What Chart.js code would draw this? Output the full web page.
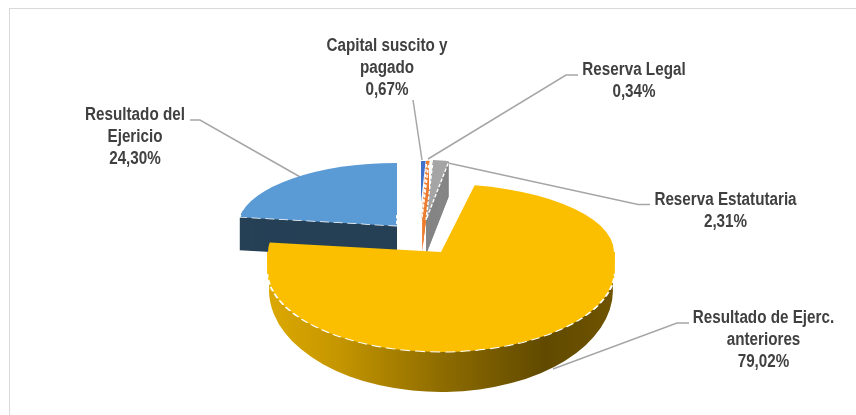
<!DOCTYPE html>
<html>
<head>
<meta charset="utf-8">
<title>Patrimonio</title>
<script src="https://cdn.jsdelivr.net/npm/chart.js@4"></script>
<style>
  html, body { margin: 0; padding: 0; background: #fff; }
  canvas { display: block; }
</style>
</head>
<body>
<canvas id="myChart" width="856" height="415"></canvas>
<script>
var categories = ['Capital suscito y pagado', 'Reserva Legal', 'Reserva Estatutaria', 'Resultado de Ejerc. anteriores', 'Resultado del Ejericio'];
var values = [0.67, 0.34, 2.31, 79.02, 24.30];
var sliceColors = ['#3F73CB', '#ED7D31', '#A5A5A5', '#FCBF00', '#5B9BD5'];
var wallColors = ['#3F73CB', '#ED7D31', '#858585', null, '#264056'];
var outlineWidths = [0, 2, 0, 0, 0];

// where each exploded slice lands and how far it is squashed
var sliceBands = [
    [{ x: 421, y: 202, rx: 118, ry: 41 }],
    [{ x: 422, y: 218, rx: 118, ry: 57 }],
    [{ x: 426, y: 220, rx: 118, ry: 60 }],
    [
        { x: 441, y: 252, rx: 173, ry: 68, top: 0, bottom: 252 },
        { x: 441, y: 252, rx: 174, ry: 400, top: 252, bottom: 270 },
        { x: 441, y: 270, rx: 174, ry: 82, top: 270, bottom: 415 }
    ],
    [{ x: 397, y: 226, rx: 159, ry: 63 }]
];
var sliceDepths = [0, 35, 35, 0, 33];
// the white rim only shows below these heights
var rimTops = [0, 163, 163, 274, 215];
// the big slice's front wall narrows towards the sides
var curvedWall = [
    { x: 441, y: 270, rx: 172, ry: 400, top: 270, bottom: 290 },
    { x: 441, y: 290, rx: 172, ry: 102, top: 290, bottom: 415 }
];
var drawOrder = [4, 0, 1, 2, 3];

// label text lines and leader lines, same order as categories
var labelLines = [
    ['Capital suscito y', 'pagado'],
    ['Reserva Legal'],
    ['Reserva Estatutaria'],
    ['Resultado de Ejerc.', 'anteriores'],
    ['Resultado del', 'Ejericio']
];
var labelSpots = [[387, 51], [634, 75], [725.5, 205], [763.5, 323.3], [135, 120]];
var leaderLines = [
    [[413, 100], [422, 160]],
    [[578, 75], [566, 75], [428, 159]],
    [[650, 204.5], [638, 204.5], [448, 163]],
    [[689, 323], [677, 323], [553, 369]],
    [[190, 120], [200, 120], [302, 178]]
];

function paintArc(ctx, el, overrides) {
    var saved = el.options;
    var opts = Object.create(saved);
    Object.keys(overrides).forEach(function (k) { opts[k] = overrides[k]; });
    el.options = opts;
    el.draw(ctx);
    el.options = saved;
}

function placeBand(ctx, el, band, dy) {
    ctx.translate(band.x, band.y + dy);
    ctx.scale(band.rx / el.outerRadius, band.ry / el.outerRadius);
    ctx.translate(-el.x, -el.y);
}

function clipBand(ctx, band) {
    if (band.top === undefined) return;
    ctx.beginPath();
    ctx.rect(0, band.top, 856, band.bottom - band.top);
    ctx.clip();
}

function wallFill(ctx, el) {
    // gradient runs across the pie in the arc's own coordinates
    var g = ctx.createLinearGradient(el.x - el.outerRadius, 0, el.x + el.outerRadius, 0);
    g.addColorStop(0, '#DCA800');
    g.addColorStop(0.2, '#C59600');
    g.addColorStop(0.5, '#8E6C00');
    g.addColorStop(0.8, '#614A00');
    g.addColorStop(1, '#6E5300');
    return g;
}

function drawSlice(ctx, el, i) {
    var bands = sliceBands[i];
    var last = bands[bands.length - 1];
    var depth = sliceDepths[i];
    var curved = i === 3;
    var d;

    // side wall: stacked copies, furthest first
    for (d = depth; d >= 1; d--) {
        ctx.save();
        placeBand(ctx, el, last, d);
        paintArc(ctx, el, { backgroundColor: wallColors[i], borderWidth: 0 });
        ctx.restore();
    }
    if (curved) {
        curvedWall.forEach(function (band) {
            ctx.save();
            clipBand(ctx, band);
            placeBand(ctx, el, band, 0);
            paintArc(ctx, el, { backgroundColor: wallFill(ctx, el), borderWidth: 0 });
            ctx.restore();
        });
    }

    // top face
    bands.forEach(function (band) {
        ctx.save();
        clipBand(ctx, band);
        placeBand(ctx, el, band, 0);
        paintArc(ctx, el, {
            backgroundColor: sliceColors[i],
            borderColor: sliceColors[i],
            borderWidth: outlineWidths[i],
            borderAlign: 'center'
        });
        ctx.restore();
    });

    // broken white rim between top face and wall
    if (depth > 0 || curved) {
        ctx.save();
        ctx.beginPath();
        ctx.rect(0, rimTops[i], 856, 415);
        ctx.clip();
        placeBand(ctx, el, last, 0);
        paintArc(ctx, el, {
            backgroundColor: 'rgba(0,0,0,0)',
            borderColor: '#fff',
            borderWidth: 2.5,
            borderAlign: 'center',
            borderDash: [12, 6]
        });
        ctx.restore();
    }
}

function drawLeaders(ctx) {
    ctx.save();
    ctx.strokeStyle = '#A6A6A6';
    ctx.lineWidth = 1.5;
    leaderLines.forEach(function (pts) {
        ctx.beginPath();
        pts.forEach(function (p, n) {
            if (n === 0) ctx.moveTo(p[0], p[1]);
            else ctx.lineTo(p[0], p[1]);
        });
        ctx.stroke();
    });
    ctx.restore();
}

var pie3d = {
    id: 'pie3d',
    beforeDraw: function (chart) {
        var ctx = chart.ctx;
        ctx.save();
        ctx.strokeStyle = '#D9D9D9';
        ctx.lineWidth = 1;
        ctx.strokeRect(9.5, 8.5, 1000, 1000);
        ctx.restore();
    },
    beforeDatasetDraw: function (chart, args) {
        var ctx = chart.ctx;
        var arcs = args.meta.data;
        drawLeaders(ctx);
        drawOrder.forEach(function (i) {
            drawSlice(ctx, arcs[i], i);
        });
        return false;
    },
    afterDatasetsDraw: function (chart) {
        var ctx = chart.ctx;
        ctx.save();
        ctx.fillStyle = '#404040';
        ctx.font = 'bold 17.5px "Liberation Sans", sans-serif';
        ctx.textAlign = 'center';
        ctx.textBaseline = 'alphabetic';
        values.forEach(function (v, i) {
            var lines = labelLines[i].concat(v.toFixed(2).replace('.', ',') + '%');
            lines.forEach(function (txt, n) {
                // squeezed sideways, the labels are set in a narrow face
                ctx.fillText(txt, labelSpots[i][0], labelSpots[i][1] + n * 21.8, ctx.measureText(txt).width * 0.87);
            });
        });
        ctx.restore();
    }
};

var ctx = document.getElementById('myChart').getContext('2d');
var mychart = new Chart(ctx, {
    type: 'pie',
    plugins: [pie3d],
    data: {
        labels: categories,
        datasets: [{
            data: values,
            backgroundColor: sliceColors,
            borderWidth: 0
        }]
    },
    options: {
        responsive: false,
        animation: false,
        events: [],
        plugins: {
            legend: { display: false },
            tooltip: { enabled: false }
        }
    }
});
</script>
</body>
</html>
